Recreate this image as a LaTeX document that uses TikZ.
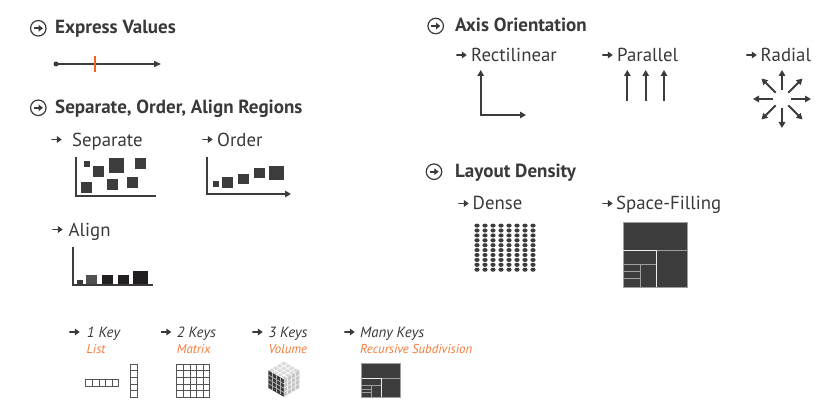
\documentclass[tikz,border=0pt]{standalone}
\usepackage{fontspec}
\setmainfont{PT Sans}
\usetikzlibrary{arrows.meta,calc}
\definecolor{ink}{HTML}{3A3A3A}
\definecolor{dk}{HTML}{3C3C3C}
\definecolor{blk}{HTML}{231F20}
\definecolor{org}{HTML}{F26522}
\definecolor{orgt}{HTML}{F47B3B}
\definecolor{cellc}{HTML}{555555}
\tikzset{
  head/.style={anchor=base west, inner sep=0pt, text=ink, font=\fontsize{19}{22}\selectfont\bfseries},
  sub/.style={anchor=base west, inner sep=0pt, text=ink, font=\fontsize{18.8}{22}\selectfont},
  keyl/.style={anchor=base west, inner sep=0pt, text=ink, font=\fontsize{14.8}{17}\selectfont\itshape},
  keysub/.style={anchor=base west, inner sep=0pt, text=orgt, font=\fontsize{12.8}{15}\selectfont\itshape},
  circicon/.style={circle, draw=ink, line width=1.2pt, minimum size=15.5pt, inner sep=0pt,
    path picture={\draw[ink, line width=1.7pt, -{Triangle[length=4.2pt,width=6.5pt]}]
      ([xshift=-4.4pt]path picture bounding box.center) -- ([xshift=4.6pt]path picture bounding box.center);}},
  bul/.style={minimum width=10.5pt, minimum height=8pt, inner sep=0pt,
    path picture={\draw[ink, line width=1.6pt, -{Triangle[length=4.8pt,width=6.5pt]}]
      (path picture bounding box.west) -- (path picture bounding box.east);}},
  axis/.style={draw=dk, line width=2pt},
  tip/.style={-{Triangle[length=6pt,width=6.5pt]}},
  cellbox/.style={draw=cellc, line width=0.8pt, fill=white},
  tmap/.pic={
    \fill[dk] (0,0) rectangle (64,65);
    \draw[draw=gray!75, line width=1pt] (0,0) rectangle (64,65) (0,28.4) -- (64,28.4) (32.7,28.4) -- (32.7,65);
    \draw[draw=gray!75, line width=1pt] (0,42.2) -- (32.7,42.2) (16.7,42.2) -- (16.7,65) (0,49.4) -- (16.7,49.4) (0,56) -- (16.7,56);
    \draw[draw=white!85!gray, line width=1pt] (0,28.4) -- (32.7,28.4) -- (32.7,65);
  }
}
\begin{document}
\begin{tikzpicture}[x=1pt,y=-1pt]
\useasboundingbox[fill=white] (0,0) rectangle (819,419);

% ---------- Express Values
\node[circicon] (i1) at (38.3,28.3) {};
\node[head] (h1) at (55,34) {Express Values};
\node[circle, fill=dk, minimum size=5pt, inner sep=0pt] (ev0) at (56,64) {};
\coordinate (ev1) at (161,64);
\draw[dk, line width=1.5pt, -{Triangle[length=7pt,width=6pt]}] (ev0.center) -- (ev1);
\coordinate (tk0) at (95,56.5);
\coordinate (tk1) at (95,72);
\draw[org, line width=2pt] (tk0) -- (tk1);

% ---------- Separate, Order, Align
\node[circicon] (i2) at (38.3,107.8) {};
\node[head] (h2) at (55,114) {Separate, Order, Align Regions};

\node[bul] (b1) at (56.5,139.5) {};
\node[sub] (s1) at (72,146.5) {Separate};
\draw[axis] (75.7,157) -- (75.7,196.5) -- (156,196.5);
\fill[dk] (84,161) rectangle ++(6,6);
\fill[dk] (93,165.7) rectangle ++(11,11);
\fill[dk] (109.3,158.3) rectangle ++(14.5,14.5);
\fill[dk] (135,158) rectangle ++(11,11);
\fill[dk] (81,182) rectangle ++(11,11);
\fill[dk] (107.3,179.3) rectangle ++(11,10.5);
\fill[dk] (127.3,177.3) rectangle ++(11,10.5);

\node[bul] (b2) at (207.5,139.5) {};
\node[sub] (s2) at (217,146.5) {Order};
\draw[axis, tip] (207.3,156.7) -- (207.3,194) -- (291,194);
\fill[dk] (212.7,181) rectangle ++(6,6);
\fill[dk] (222,177.3) rectangle ++(10.5,10.5);
\fill[dk] (238,174) rectangle ++(11,10.5);
\fill[dk] (254,168) rectangle ++(11,10.5);
\fill[dk] (269,166) rectangle ++(14.5,14.5);

\node[bul] (b3) at (57.5,229.5) {};
\node[sub] (s3) at (68.5,236.5) {Align};
\draw[axis] (72.7,246.7) -- (72.7,285.5) -- (152.7,285.5);
\fill[dk] (76.7,280) rectangle ++(6,4.5);
\fill[dk!90!white] (86,275) rectangle ++(10.7,9.5);
\fill[blk] (102,275) rectangle ++(10.7,9.5);
\fill[blk] (118,275) rectangle ++(10.7,9.5);
\fill[blk] (133,271) rectangle ++(14.7,13.5);

% ---------- Axis Orientation
\node[circicon] (i3) at (435.7,26) {};
\node[head] (h3) at (455,31.8) {Axis Orientation};

\node[bul] (b4) at (461.5,55) {};
\node[sub] (s4) at (471,61.7) {Rectilinear};
\draw[axis, {Triangle[length=6pt,width=6.5pt]}-{Triangle[length=6pt,width=6.5pt]}] (480.7,70) -- (480.7,115) -- (526,115);

\node[bul] (b5) at (607.5,55) {};
\node[sub] (s5) at (617,61.7) {Parallel};
\foreach \x in {627.3,645.7,664} \draw[axis, tip] (\x,101) -- (\x,70);

\node[bul] (b6) at (751.5,55) {};
\node[sub] (s6) at (760.5,61.7) {Radial};
\coordinate (rc) at (782,99);
\foreach \a in {0,45,...,315} \draw[axis, tip] ($(rc)+(\a:9)$) -- ($(rc)+(\a:29)$);

% ---------- Layout Density
\node[circicon] (i4) at (434,171.7) {};
\node[head] (h4) at (455,177.5) {Layout Density};

\node[bul] (b7) at (463.5,203.5) {};
\node[sub] (s7) at (472.5,210) {Dense};
\foreach \i in {0,...,7} \foreach \j in {0,...,9}
  \fill[dk] (477+8*\i, 225.6+4.9*\j) ellipse [x radius=2.6pt, y radius=2.05pt];

\node[bul] (b8) at (607.5,203.5) {};
\node[sub] (s8) at (616,210) {Space-Filling};
\pic at (623.3,222.3) {tmap};

% ---------- Keys
\node[bul] (k1) at (74.5,332) {};
\node[keyl] (t1) at (86.7,338) {1 Key};
\node[keysub] (u1) at (86.5,353.5) {List};
\foreach \i in {0,...,4} \draw[cellbox] (85.7+6.6*\i,379.3) rectangle ++(6.6,6.6);
\foreach \i in {0,...,4} \draw[cellbox] (130.5,364.3+6.6*\i) rectangle ++(6.6,6.6);

\node[bul] (k2) at (166,332) {};
\node[keyl] (t2) at (176.7,338) {2 Keys};
\node[keysub] (u2) at (176.7,353.5) {Matrix};
\foreach \i in {0,...,4} \foreach \j in {0,...,4}
  \draw[cellbox] (176.7+6.6*\i,364.3+6.6*\j) rectangle ++(6.6,6.6);

\node[bul] (k3) at (257.5,332) {};
\node[keyl] (t3) at (268.3,338) {3 Keys};
\node[keysub] (u3) at (268.3,353.5) {Volume};
\coordinate (cT) at (283.8,361.7);
\coordinate (cL) at (268.3,370.6);
\coordinate (cR) at (299.3,370.6);
\coordinate (cC) at (283.8,379.5);
\coordinate (cBL) at (268.3,387.8);
\coordinate (cBR) at (299.3,387.8);
\coordinate (cB) at (283.8,396.7);
\fill[gray!30] (cT) -- (cR) -- (cC) -- (cL) -- cycle;
\fill[dk] (cL) -- (cC) -- (cB) -- (cBL) -- cycle;
\fill[gray!45] (cC) -- (cR) -- (cBR) -- (cB) -- cycle;
\foreach \k in {1,2,3} {
  \draw[white, line width=0.7pt] ($(cL)!\k/4!(cC)$) -- ($(cT)!\k/4!(cR)$);
  \draw[white, line width=0.7pt] ($(cL)!\k/4!(cT)$) -- ($(cC)!\k/4!(cR)$);
  \draw[gray!60, line width=0.7pt] ($(cL)!\k/4!(cC)$) -- ($(cBL)!\k/4!(cB)$);
  \draw[gray!60, line width=0.7pt] ($(cL)!\k/4!(cBL)$) -- ($(cC)!\k/4!(cB)$);
  \draw[white!85!gray, line width=0.7pt] ($(cC)!\k/4!(cR)$) -- ($(cB)!\k/4!(cBR)$);
  \draw[white!85!gray, line width=0.7pt] ($(cC)!\k/4!(cB)$) -- ($(cR)!\k/4!(cBR)$);
}

\node[bul] (k4) at (349.5,332) {};
\node[keyl] (t4) at (360,338) {Many Keys};
\node[keysub] (u4) at (360,353.5) {Recursive Subdivision};
\pic[xscale=0.61, yscale=0.51] at (361.7,364) {tmap};
\end{tikzpicture}
\end{document}
